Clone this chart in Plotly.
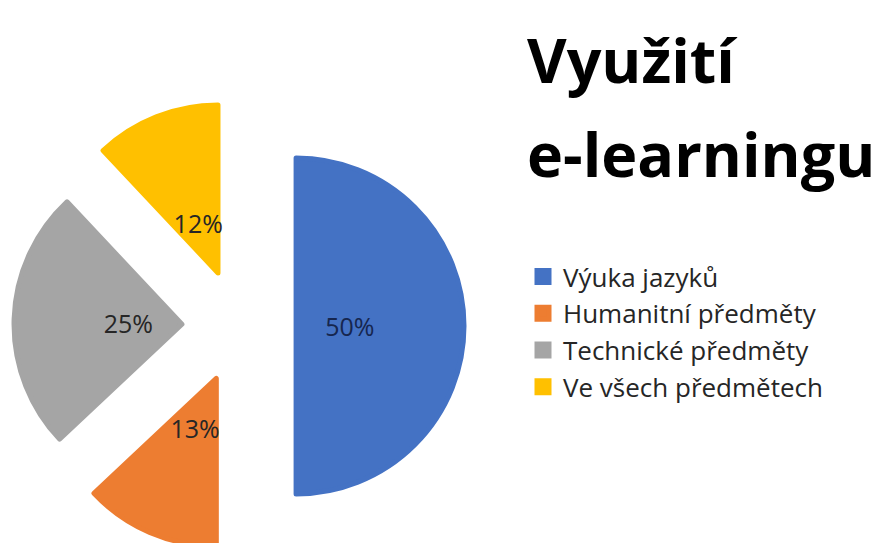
import plotly.graph_objects as go

labels = ["Výuka jazyků", "Humanitní předměty", "Technické předměty", "Ve všech předmětech"]
values = [50, 13, 25, 12]
colors = ["#4472C4", "#ED7D31", "#A5A5A5", "#FFC000"]
label_colors = ["#16264f", "#262626", "#262626", "#262626"]
title_lines = ["Využití", "e-learningu"]

W, H = 886, 543
T, B = 93, 0
ph = H - T - B
CX, CY = 231, T + ph / 2   # pie centre in pixels
R_LBL = 142                 # outer radius of the (invisible) label ring


def py2paper(py):
    return (H - py) / ph


fig = go.Figure()
# visible, exploded pie
fig.add_trace(
    go.Pie(
        labels=labels,
        values=values,
        sort=False,
        direction="clockwise",
        rotation=0,
        pull=[0.34] * len(values),
        marker=dict(colors=colors, line=dict(color=colors, width=5)),
        textinfo="none",
        hoverinfo="skip",
        domain=dict(x=[0, 2 * CX / W], y=[0, 1]),
    )
)
# invisible ring that carries the percentage labels
fig.add_trace(
    go.Pie(
        labels=labels,
        values=values,
        sort=False,
        direction="clockwise",
        rotation=0,
        hole=0.56,
        marker=dict(colors=["rgba(0,0,0,0)"] * len(values), line=dict(width=0)),
        textinfo="percent",
        texttemplate="%{percent:.0%}",
        textposition="inside",
        insidetextorientation="horizontal",
        textfont=dict(family="Open Sans", size=25, color=label_colors),
        hoverinfo="skip",
        showlegend=False,
        domain=dict(
            x=[(CX - R_LBL) / W, (CX + R_LBL) / W],
            y=[py2paper(CY + R_LBL), py2paper(CY - R_LBL)],
        ),
    )
)

fig.update_layout(
    width=W,
    height=H,
    margin=dict(l=0, r=0, t=T, b=B),
    paper_bgcolor="white",
    plot_bgcolor="white",
    showlegend=True,
    legend=dict(
        x=515 / W,
        xanchor="left",
        y=py2paper(245),
        yanchor="top",
        font=dict(family="Open Sans", size=26, color="#262626"),
        tracegroupgap=0,
        itemclick=False,
    ),
    annotations=[
        dict(
            text=title_lines[0], x=517 / W, y=py2paper(52), xref="paper", yref="paper",
            xanchor="left", yanchor="middle", showarrow=False,
            font=dict(family="Open Sans", size=61, color="black", weight="bold"),
        ),
        dict(
            text=title_lines[1], x=517 / W, y=py2paper(145), xref="paper", yref="paper",
            xanchor="left", yanchor="middle", showarrow=False,
            font=dict(family="Open Sans", size=61, color="black", weight="bold"),
        ),
    ],
)

fig.write_html("out.html")
